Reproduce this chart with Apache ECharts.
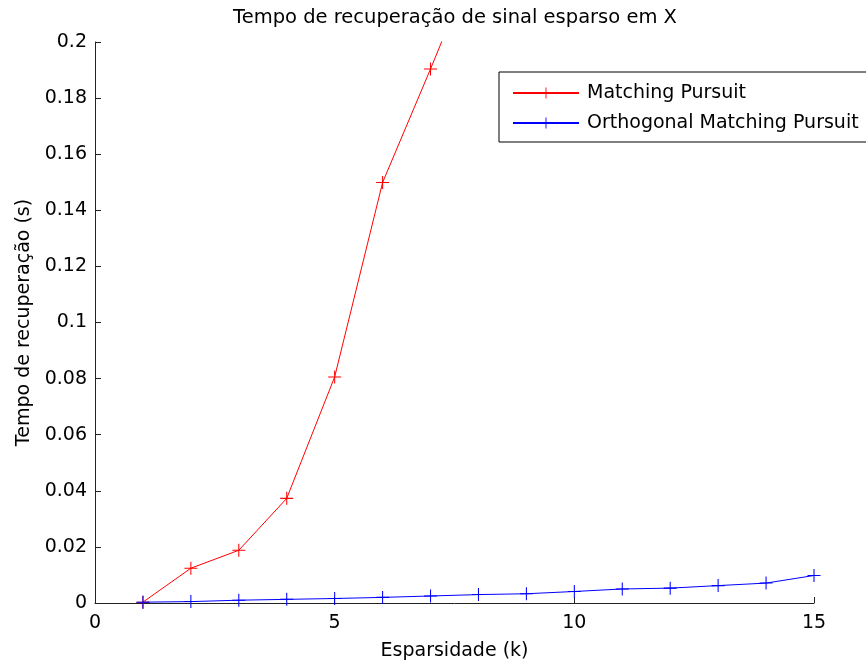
<!DOCTYPE html>
<html><head><meta charset="utf-8">
<script src="https://cdn.jsdelivr.net/npm/echarts@6/dist/echarts.min.js"></script>
<style>html,body{margin:0;padding:0;background:#fff}#c{width:866px;height:666px}</style>
</head><body><div id="c"></div>
<script>
var kMP = [1, 2, 3, 4, 5, 6, 7, 8];
var mpTime = [0.0003, 0.0124, 0.0188, 0.0373, 0.0806, 0.1499, 0.1904, 0.232];
var kOMP = [1, 2, 3, 4, 5, 6, 7, 8, 9, 10, 11, 12, 13, 14, 15];
var ompTime = [0.0003, 0.0005, 0.001, 0.0013, 0.0016, 0.002, 0.0025, 0.003, 0.0033, 0.0041, 0.005, 0.0053, 0.0062, 0.0071, 0.0098];
var titleText = 'Tempo de recuperação de sinal esparso em X';
var xName = 'Esparsidade (k)';
var yName = 'Tempo de recuperação (s)';
var seriesNames = ['Matching Pursuit', 'Orthogonal Matching Pursuit'];

var FONT = '"DejaVu Sans", Verdana, sans-serif';
var plus = 'path://M4.6,0 H5.4 V4.6 H10 V5.4 H5.4 V10 H4.6 V5.4 H0 V4.6 H4.6 Z';
function pairs(xs, ys) { return xs.map(function (x, i) { return [x, ys[i]]; }); }

var chart = echarts.init(document.getElementById('c'), null, {renderer: 'canvas'});
chart.setOption({
  animation: false,
  backgroundColor: '#fff',
  title: {text: titleText, left: 455, textAlign: 'center', top: 3, padding: [5, 0, 5, 0],
    textStyle: {fontFamily: FONT, fontSize: 19.5, fontWeight: 'normal', color: '#000'}},
  grid: {left: 95, right: 52, top: 42, bottom: 61, containLabel: false},
  legend: {
    orient: 'vertical', left: 499, top: 72,
    data: seriesNames,
    itemWidth: 66, itemHeight: 14, itemGap: 10,
    padding: [11, 40, 9, 13],
    borderColor: '#000', borderWidth: 1, backgroundColor: '#fff',
    textStyle: {fontFamily: FONT, fontSize: 19, lineHeight: 20, color: '#000', padding: [0, 0, 0, 3]}
  },
  xAxis: {
    type: 'value', min: 0, max: 15, interval: 5,
    name: xName, nameLocation: 'middle', nameGap: 39,
    nameTextStyle: {fontFamily: FONT, fontSize: 19, color: '#000'},
    axisLine: {lineStyle: {color: '#222', width: 1}},
    axisTick: {inside: true, length: 6, lineStyle: {color: '#222'}},
    axisLabel: {fontFamily: FONT, fontSize: 19, color: '#000', margin: 11},
    splitLine: {show: false}
  },
  yAxis: {
    type: 'value', min: 0, max: 0.2, interval: 0.02,
    name: yName, nameLocation: 'middle', nameGap: 60,
    nameTextStyle: {fontFamily: FONT, fontSize: 19, color: '#000'},
    axisLine: {show: true, lineStyle: {color: '#222', width: 1}},
    axisTick: {show: true, inside: true, length: 6, lineStyle: {color: '#222'}},
    axisLabel: {fontFamily: FONT, fontSize: 19, color: '#000', margin: 8},
    splitLine: {show: false}
  },
  series: [
    {name: seriesNames[0], type: 'line', data: pairs(kMP, mpTime), clip: true,
      symbol: plus, symbolSize: 13, showAllSymbol: true,
      lineStyle: {color: '#ff0000', width: 1},
      itemStyle: {color: '#ff0000'}},
    {name: seriesNames[1], type: 'line', data: pairs(kOMP, ompTime), clip: true,
      symbol: plus, symbolSize: 13, showAllSymbol: true,
      lineStyle: {color: '#0000ff', width: 1},
      itemStyle: {color: '#0000ff'}}
  ]
});
</script></body></html>
